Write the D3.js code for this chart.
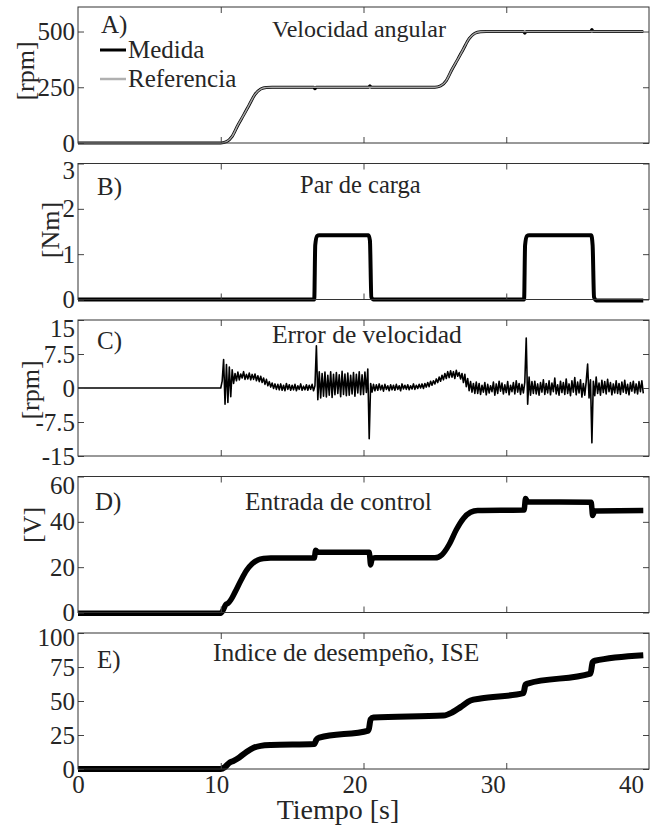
<!DOCTYPE html>
<html>
<head>
<meta charset="utf-8">
<script src="https://cdn.jsdelivr.net/npm/d3@7"></script>
<style>
body{margin:0;background:#fff;}
text{font-family:"Liberation Serif","Times New Roman",serif;fill:#262626;}
</style>
</head>
<body>
<script>
// tiempo [s]
var tiempoTicks = [0, 10, 20, 30, 40];

// A) velocidad angular [rpm]
var velRefT = [0, 10, 10.4, 10.8, 11.2, 11.6, 12.0, 12.4, 12.8, 13.2, 13.6, 25.0, 25.4, 25.8, 26.2, 26.6, 27.0, 27.4, 27.8, 28.2, 28.6, 39.6];
var velRefV = [0, 0, 6, 30, 80, 125, 172, 218, 242, 249, 250, 250, 256, 280, 330, 375, 422, 468, 492, 499, 500, 500];
var velMedT = [0, 10, 10.4, 10.8, 11.2, 11.6, 12.0, 12.4, 12.8, 13.2, 13.6, 16.5, 16.6, 16.7, 20.35, 20.45, 20.55, 25.0, 25.4, 25.8, 26.2, 26.6, 27.0, 27.4, 27.8, 28.2, 28.6, 31.2, 31.3, 31.4, 35.9, 36.0, 36.1, 39.6];
var velMedV = [0, 0, 6, 30, 80, 125, 172, 218, 242, 249, 250, 250, 243, 250, 250, 257, 250, 250, 256, 280, 330, 375, 422, 468, 492, 499, 500, 500, 492, 500, 500, 509, 500, 500];
var velTicks = [0, 250, 500];

// B) par de carga [Nm]
var parT = [0, 16.55, 16.62, 16.75, 16.9, 20.35, 20.45, 20.55, 20.7, 31.25, 31.32, 31.45, 31.6, 35.95, 36.05, 36.15, 36.3, 39.6];
var parV = [0, 0, 1.2, 1.4, 1.42, 1.42, 1.3, 0.05, 0, 0, 1.2, 1.4, 1.42, 1.42, 1.2, 0.05, -0.02, -0.02];
var parTicks = [0, 1, 2, 3];

// C) error de velocidad [rpm]: cero hasta 10 s, luego muestras cada 0.1 s
var errT0 = [0, 9.9];
var errV0 = [0, 0];
var errInicio = 10, errPaso = 0.1;
var errV = [
  0.0, 1.5, 6.3, -3.6, 5.2, -3.2, 4.6, -1.9, 4.0, 1.0,
  3.2, 1.6, 3.5, 1.8, 3.1, 2.2, 3.6, 1.9, 3.0, 2.0,
  3.3, 1.8, 3.0, 1.9, 3.1, 1.6, 2.7, 1.4, 2.6, 1.2,
  2.2, 0.8, 1.9, 0.5, 1.4, 0.2, 1.1, -0.1, 0.9, -0.3,
  0.8, -0.4, 0.9, -0.5, 0.6, -0.6, 1.0, -0.3, 0.7, -0.5,
  0.6, -0.4, 0.8, -0.6, 0.5, -0.3, 0.9, -0.5, 0.4, -0.4,
  0.7, -0.5, 0.6, -0.3, 0.8, -0.6, 0.5, 9.3, -2.6, 3.6,
  -2.2, 3.2, -1.8, 3.5, -2.0, 2.8, -1.6, 3.6, -2.1, 3.0,
  -1.5, 3.4, -1.2, 2.9, -1.9, 3.7, -1.4, 3.1, -1.7, 3.3,
  -1.6, 2.8, -1.3, 3.4, -1.8, 3.0, -1.1, 3.6, -1.5, 2.9,
  -1.4, 3.5, -1.0, 4.2, -11.2, 1.0, -0.9, 0.8, -0.6, 0.7,
  -0.5, 0.9, -0.4, 0.6, -0.7, 0.8, -0.3, 0.5, -0.6, 0.7,
  -0.4, 0.6, -0.5, 0.8, -0.3, 0.5, -0.6, 0.9, -0.2, 0.6,
  -0.3, 0.7, -0.4, 0.5, -0.2, 0.9, -0.3, 0.6, -0.1, 0.8,
  0.0, 0.9, -0.1, 1.0, 0.2, 1.2, 0.3, 1.5, 0.6, 1.6,
  0.9, 2.0, 1.2, 2.4, 1.5, 2.8, 1.8, 3.2, 2.1, 3.6,
  2.3, 3.8, 2.4, 3.6, 2.1, 3.9, 2.6, 3.4, 2.0, 3.2,
  1.2, 3.0, 0.3, 2.1, -0.6, 1.4, -0.9, 1.0, -1.2, 1.3,
  -1.2, 1.0, -1.4, 0.6, -0.9, 1.2, -1.5, 0.8, -1.1, 0.5,
  -0.8, 1.3, -1.6, 0.9, -1.2, 1.5, -0.7, 1.1, -1.3, 0.7,
  -1.0, 1.4, -1.5, 0.6, -0.8, 1.2, -1.3, 1.6, -0.9, 1.0,
  -1.4, 0.8, -1.1, 1.3, 11.0, -3.6, 2.4, -1.6, 1.4, -1.2,
  1.5, -1.3, 0.9, -1.6, 1.2, -0.9, 1.8, -1.4, 1.0, -1.1,
  1.6, -1.5, 1.1, -0.8, 2.2, -1.3, 0.7, -1.6, 1.5, -1.0,
  1.2, -1.4, 2.0, -1.2, 0.9, -1.7, 1.6, -0.9, 2.3, -1.5,
  1.3, -1.1, 1.8, -2.0, 1.0, -1.6, 1.4, 5.3, -2.2, 1.8,
  -12.1, 1.5, -1.7, 2.4, -1.2, 1.1, -1.6, 1.7, -1.0, 1.4,
  -1.3, 1.9, -0.8, 1.2, -1.5, 0.9, -1.1, 1.6, -1.2, 1.0,
  -1.4, 1.3, -0.9, 1.7, -1.2, 0.8, -1.5, 1.2, -0.7, 1.5,
  -1.1, 0.9, -1.3, 1.4, -0.8, 1.6, -1.2
];
var errTicks = [-15, -7.5, 0, 7.5, 15];

// D) entrada de control [V]
var entT = [0, 10, 10.2, 10.35, 10.5, 10.7, 11.0, 11.4, 11.8, 12.2, 12.6, 13.0, 13.5, 16.55, 16.65, 16.8, 20.4, 20.5, 20.6, 20.8, 25.0, 25.5, 26.0, 26.5, 27.0, 27.5, 28.0, 31.25, 31.35, 31.5, 35.95, 36.05, 36.2, 39.6];
var entV = [-0.3, -0.3, 1.5, 3.5, 4.0, 5.5, 9, 14, 18.5, 21.5, 23.2, 23.8, 24.0, 24.0, 27.5, 26.6, 26.6, 21.0, 23.5, 24.1, 24.1, 25.5, 30, 36.5, 41.5, 44.2, 45.0, 45.2, 50.3, 48.8, 48.6, 42.8, 44.8, 45.0];
var entTicks = [0, 20, 40, 60];

// E) indice de desempeño ISE
var iseT = [0, 10, 10.3, 10.6, 10.9, 11.3, 11.8, 12.3, 12.8, 13.5, 16.55, 16.7, 16.9, 20.35, 20.5, 20.7, 25.6, 26.2, 26.8, 27.5, 28.2, 31.2, 31.35, 31.5, 35.9, 36.05, 36.2, 39.6];
var iseV = [0, 0, 1.5, 4.5, 6.0, 8.5, 12.5, 15.6, 17.0, 17.6, 18.3, 21.5, 23.0, 28.3, 36.5, 37.8, 39.3, 41.5, 45.5, 50.4, 51.8, 55.8, 62.0, 62.8, 70.1, 78.5, 79.6, 83.7];
var iseTicks = [0, 25, 50, 75, 100];

var W = 651, H = 826;
var left = 78, right = 649, ph = 136;

var svg = d3.select("body").append("svg")
    .attr("width", W)
    .attr("height", H);

// escala de datos y escala de etiquetas del eje de tiempo
var x = d3.scaleLinear().domain([0, 40]).range([left, right]);
var xLab = d3.scaleLinear().domain([0, 40]).range([left, 631]);

var errT = errT0.concat(errV.map(function(d, i){ return errInicio + i * errPaso; }));
var errY = errV0.concat(errV);

var panels = [
  {letra: "A)", lx: 101, ly: 33, titulo: "Velocidad angular", tx: 272, ty: 37, fs: 24,
   unidad: "[rpm]", ux: 25, uy: 71, dom: [0, 610], ticks: velTicks, shift: 0},
  {letra: "B)", lx: 97, ly: 195, titulo: "Par de carga", tx: 300, ty: 193, fs: 24.5,
   unidad: "[Nm]", ux: 50, uy: 230, dom: [0, 3], ticks: parTicks, shift: 7},
  {letra: "C)", lx: 97, ly: 349, titulo: "Error de velocidad", tx: 272, ty: 343, fs: 25.5,
   unidad: "[rpm]", ux: 30, uy: 390, dom: [-15, 15], ticks: errTicks, shift: 8},
  {letra: "D)", lx: 95, ly: 510, titulo: "Entrada de control", tx: 245, ty: 510, fs: 25.3,
   unidad: "[V]", ux: 32, uy: 525, dom: [0, 60], ticks: entTicks, shift: 9},
  {letra: "E)", lx: 97, ly: 668, titulo: "Indice de desempe\u00f1o, ISE", tx: 213, ty: 661, fs: 25.5,
   unidad: "", ux: 0, uy: 0, dom: [0, 100], ticks: iseTicks, shift: 4}
];

var series = [
  [{t: velMedT, v: velMedV, color: "#000", w: 3, curva: d3.curveMonotoneX},
   {t: velRefT, v: velRefV, color: "#a6a6a6", w: 1.5, curva: d3.curveMonotoneX}],
  [{t: parT, v: parV, color: "#000", w: 4, curva: d3.curveMonotoneX}],
  [{t: errT, v: errY, color: "#000", w: 1.6, curva: d3.curveLinear}],
  [{t: entT, v: entV, color: "#000", w: 5.5, curva: d3.curveMonotoneX}],
  [{t: iseT, v: iseV, color: "#000", w: 6, curva: d3.curveMonotoneX}]
];

panels.forEach(function(p, i){
    var top = 7 + i * 156.5;
    var g = svg.append("g").attr("transform", "translate(0," + top + ")");
    var y = d3.scaleLinear().domain(p.dom).range([ph, 0]);

    // lineas
    series[i].forEach(function(s){
        var line = d3.line()
            .x(function(d){ return x(d[0]); })
            .y(function(d){ return y(d[1]); })
            .curve(s.curva);
        g.append("path")
            .datum(d3.zip(s.t, s.v))
            .attr("d", line)
            .attr("fill", "none")
            .attr("stroke", s.color)
            .attr("stroke-width", s.w)
            .attr("stroke-linejoin", "round");
    });

    // ejes (marcas hacia adentro)
    var ax = g.append("g")
        .attr("transform", "translate(" + left + ",0)")
        .call(d3.axisLeft(y).tickValues(p.ticks).tickSize(-6).tickSizeOuter(0).tickPadding(3)
            .tickFormat(function(d){ return String(d); }));
    ax.selectAll("text").style("font-size", "25px")
        .filter(function(d){ return d === p.dom[1]; })
        .attr("dy", (0.32 * 25 + p.shift) + "px");
    g.append("g")
        .attr("transform", "translate(" + right + ",0)")
        .call(d3.axisRight(y).tickValues(p.ticks).tickSize(-6).tickSizeOuter(0).tickFormat(""));
    g.append("g")
        .call(d3.axisTop(x).tickValues([10, 20, 30]).tickSize(-6).tickSizeOuter(0).tickFormat(""));
    g.append("g")
        .attr("transform", "translate(0," + ph + ")")
        .call(d3.axisBottom(x).tickValues([10, 20, 30]).tickSize(-6).tickSizeOuter(0).tickFormat(""));
    g.selectAll(".domain").remove();
    g.selectAll(".tick line").attr("stroke", "#444");

    g.append("rect")
        .attr("x", left).attr("y", 0)
        .attr("width", right - left).attr("height", ph)
        .attr("fill", "none")
        .attr("stroke", "#333")
        .attr("stroke-width", 1);

    // textos
    svg.append("text").attr("x", p.lx).attr("y", p.ly)
        .style("font-size", "25px").text(p.letra);
    svg.append("text").attr("x", p.tx).attr("y", p.ty)
        .style("font-size", p.fs + "px").text(p.titulo);
    if(p.unidad){
        svg.append("text")
            .attr("transform", "translate(" + p.ux + "," + p.uy + ") rotate(-90)")
            .attr("text-anchor", "middle")
            .attr("dy", "0.35em")
            .style("font-size", "26px")
            .text(p.unidad);
    }

    // eje de tiempo en el ultimo panel
    if(i === panels.length - 1){
        var bx = g.append("g")
            .attr("transform", "translate(0," + ph + ")")
            .call(d3.axisBottom(xLab).tickValues(tiempoTicks).tickSize(0).tickPadding(6));
        bx.select(".domain").remove();
        bx.selectAll("text").style("font-size", "25px");
        svg.append("text")
            .attr("x", 338).attr("y", 819)
            .attr("text-anchor", "middle")
            .style("font-size", "28px")
            .text("Tiempo [s]");
    }
});

// leyenda panel A
var leyenda = [
  {nombre: "Medida", color: "#000", w: 3, y: 50},
  {nombre: "Referencia", color: "#b0b0b0", w: 2.5, y: 79}
];
leyenda.forEach(function(d){
    svg.append("line")
        .attr("x1", 100).attr("x2", 126)
        .attr("y1", d.y).attr("y2", d.y)
        .attr("stroke", d.color).attr("stroke-width", d.w);
    svg.append("text")
        .attr("x", 128).attr("y", d.y + 8)
        .style("font-size", "25px")
        .text(d.nombre);
});
</script>
</body>
</html>
